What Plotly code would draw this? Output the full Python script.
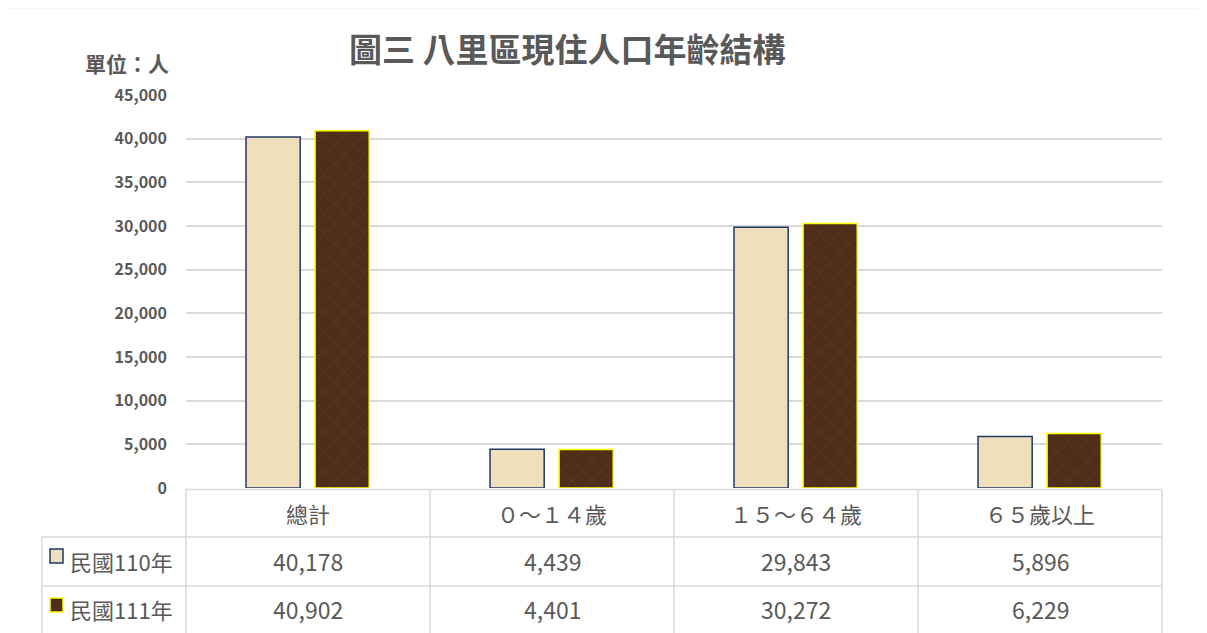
import plotly.graph_objects as go

# ---- data ----
categories = ["總計", "０～１４歲", "１５～６４歲", "６５歲以上"]
series_names = ["民國110年", "民國111年"]
values_110 = [40178, 4439, 29843, 5896]
values_111 = [40902, 4401, 30272, 6229]
y_ticks = [0, 5000, 10000, 15000, 20000, 25000, 30000, 35000, 40000, 45000]

# ---- geometry (screen pixels; page has an 8px body margin) ----
OFF = 8
W, H = 1207 - OFF, 633 - OFF
PL, PR, PT, PB = 186, 1162, 95, 488
FONT = "Noto Sans CJK TC"
TXT = "#595959"
GRID = "#D9D9D9"
C1, C1L = "#EFDFBD", "#1F3864"
C2, C2L = "#4E2E18", "#FFFF00"


def X(px):
    return (px - PL) / (PR - PL)


def Y(py):
    return (PB - py) / (PB - PT)


fig = go.Figure()
fig.add_trace(go.Bar(
    x=categories, y=values_110, name=series_names[0],
    width=0.222, offset=-0.254,
    marker=dict(color=C1, line=dict(color=C1L, width=1.5)),
    showlegend=False,
))
fig.add_trace(go.Bar(
    x=categories, y=values_111, name=series_names[1],
    width=0.222, offset=0.029,
    marker=dict(color=C2, line=dict(color=C2L, width=1.5),
                pattern=dict(shape="x", fgcolor="#5E3D26", bgcolor=C2, size=14, solidity=0.15)),
    showlegend=False,
))

shapes = []
annotations = []

# outer chart border
shapes.append(dict(type="rect", xref="paper", yref="paper", x0=X(6), x1=X(1206), y0=Y(8), y1=Y(660),
                   line=dict(color="#EFEFEF", width=1), layer="below"))

# table lines
col_edges = [PL + i * (PR - PL) / 4 for i in range(5)]
line_style = dict(color=GRID, width=1.5)
shapes.append(dict(type="line", xref="paper", yref="paper", x0=X(PL), x1=X(PR), y0=Y(489.5), y1=Y(489.5), line=line_style))
for yy in (537, 586):
    shapes.append(dict(type="line", xref="paper", yref="paper", x0=X(42), x1=X(PR), y0=Y(yy), y1=Y(yy), line=line_style))
for cx in col_edges:
    shapes.append(dict(type="line", xref="paper", yref="paper", x0=X(cx), x1=X(cx), y0=Y(489.5), y1=Y(640), line=line_style))
shapes.append(dict(type="line", xref="paper", yref="paper", x0=X(42), x1=X(42), y0=Y(537), y1=Y(640), line=line_style))

# legend swatches
for (y0, fill, edge) in ((549, C1, C1L), (598, C2, C2L)):
    shapes.append(dict(type="rect", xref="paper", yref="paper", x0=X(50), x1=X(63), y0=Y(y0), y1=Y(y0 + 14),
                       fillcolor=fill, line=dict(color=edge, width=1.5)))

# header texts & values
for i, cat in enumerate(categories):
    cx = (col_edges[i] + col_edges[i + 1]) / 2
    annotations.append(dict(text=cat, x=X(cx), y=Y(513), xref="paper", yref="paper", showarrow=False,
                            xanchor="center", yanchor="middle", font=dict(family=FONT, size=22, color=TXT)))
    for vals, yy in ((values_110, 561), (values_111, 609)):
        annotations.append(dict(text=f"{vals[i]:,}", x=X(cx), y=Y(yy), xref="paper", yref="paper",
                                showarrow=False, xanchor="center", yanchor="middle",
                                font=dict(family=FONT, size=23, color=TXT)))

for name, yy in ((series_names[0], 561), (series_names[1], 609)):
    annotations.append(dict(text=name, x=X(68), y=Y(yy), xref="paper", yref="paper", showarrow=False,
                            xanchor="left", yanchor="middle", font=dict(family=FONT, size=22, color=TXT)))

# title & unit
annotations.append(dict(text="<b>圖三 八里區現住人口年齡結構</b>", x=X(567), y=Y(48), xref="paper", yref="paper",
                        showarrow=False, xanchor="center", yanchor="middle",
                        font=dict(family=FONT, size=33, color=TXT)))
annotations.append(dict(text="<b>單位：人</b>", x=X(171), y=Y(63), xref="paper", yref="paper",
                        showarrow=False, xanchor="right", yanchor="middle",
                        font=dict(family=FONT, size=21, color=TXT)))

fig.update_layout(
    width=W, height=H,
    margin=dict(l=PL - OFF, r=W + OFF - PR, t=PT - OFF, b=H + OFF - PB, pad=0),
    paper_bgcolor="white", plot_bgcolor="white",
    barmode="overlay",
    shapes=shapes, annotations=annotations,
    xaxis=dict(showticklabels=False, showgrid=False, zeroline=False, showline=False, ticks="",
               range=[-0.5, 3.5]),
    yaxis=dict(range=[0, 45000], tickvals=y_ticks, ticktext=[f"<b>{v:,}</b>" for v in y_ticks],
               showgrid=True, gridcolor=GRID, gridwidth=1.5, zeroline=False, showline=False,
               ticks="", ticklabelstandoff=18,
               tickfont=dict(family=FONT, size=16, color=TXT)),
    font=dict(family=FONT, color=TXT),
)

fig.write_html("out.html")
